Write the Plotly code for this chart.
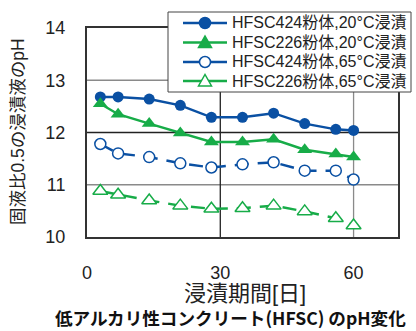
import plotly.graph_objects as go

# Immersion period [days]
days = [3, 7, 14, 21, 28, 35, 42, 49, 56, 60]

# pH of the leachate (solid/liquid ratio 0.5)
ph_424_20 = [12.68, 12.68, 12.64, 12.52, 12.29, 12.29, 12.37, 12.17, 12.06, 12.04]
ph_226_20 = [12.55, 12.35, 12.17, 11.99, 11.82, 11.82, 11.87, 11.67, 11.59, 11.53]
ph_424_65 = [11.78, 11.60, 11.53, 11.41, 11.33, 11.39, 11.43, 11.27, 11.27, 11.10]
ph_226_65 = [10.88, 10.81, 10.70, 10.60, 10.54, 10.55, 10.60, 10.49, 10.36, 10.22]

names = ["HFSC424粉体,20°C浸漬", "HFSC226粉体,20°C浸漬",
         "HFSC424粉体,65°C浸漬", "HFSC226粉体,65°C浸漬"]

BLUE = "#0a50a3"
GREEN = "#17ac48"
FONT = "Liberation Sans, Arial, Noto Sans CJK JP"

W, H = 416, 331
ML, MR, MT, MB = 87, 18, 28, 94
PW, PH = W - ML - MR, H - MT - MB


def px(xp):
    """Pixel x -> paper x."""
    return (xp - ML) / PW


def py(yp):
    """Pixel y (from top) -> paper y."""
    return (H - MB - yp) / PH


series = [
    (ph_424_20, BLUE, "circle", True, None),
    (ph_226_20, GREEN, "triangle-up", True, None),
    (ph_424_65, BLUE, "circle", False, "14px,9px"),
    (ph_226_65, GREEN, "triangle-up", False, "14px,9px"),
]

fig = go.Figure()
for (vals, col, sym, filled, dash), name in zip(series, names):
    size = 11 if sym == "circle" else 13
    fig.add_trace(go.Scatter(
        x=days, y=vals, name=name, mode="lines+markers", showlegend=False,
        line=dict(color=col, width=2.5, dash=dash),
        marker=dict(symbol=sym, size=size,
                    color=col if filled else "white",
                    line=dict(color=col, width=0 if filled else 1.5))))

# Grid lines: light ones plus darker mid lines
shapes = []
for yv, col in [(11, "#8a8a8a"), (13, "#8a8a8a"), (12, "#222222")]:
    shapes.append(dict(type="line", xref="paper", yref="y", x0=0, x1=1,
                       y0=yv, y1=yv, line=dict(color=col, width=1.3), layer="below"))
for xv, col in [(30, "#222222"), (60, "#8a8a8a")]:
    shapes.append(dict(type="line", xref="x", yref="paper", x0=xv, x1=xv,
                       y0=0, y1=1, line=dict(color=col, width=1.3), layer="below"))

annotations = []

# Legend box with line/marker keys
shapes.append(dict(type="rect", xref="paper", yref="paper",
                   x0=px(168), x1=px(411), y0=py(92), y1=py(12),
                   fillcolor="white", line=dict(color="#444444", width=1),
                   layer="above"))
row_y = [23, 42.5, 62, 81]
for (vals, col, sym, filled, dash), name, ry in zip(series, names, row_y):
    shapes.append(dict(type="line", xref="paper", yref="paper",
                       x0=px(183), x1=px(227), y0=py(ry), y1=py(ry),
                       line=dict(color=col, width=2.5), layer="above"))
    fill = col if filled else "white"
    if sym == "circle":
        shapes.append(dict(type="circle", xref="paper", yref="paper",
                           xsizemode="pixel", ysizemode="pixel",
                           xanchor=px(205), yanchor=py(ry),
                           x0=-5.5, x1=5.5, y0=-5.5, y1=5.5,
                           fillcolor=fill, line=dict(color=col, width=1.5),
                           layer="above"))
    else:
        shapes.append(dict(type="path", xref="paper", yref="paper",
                           xsizemode="pixel", ysizemode="pixel",
                           xanchor=px(205), yanchor=py(ry),
                           path="M -6.5 -5 L 6.5 -5 L 0 6.5 Z",
                           fillcolor=fill, line=dict(color=col, width=1.5),
                           layer="above"))
    annotations.append(dict(text=name, xref="paper", yref="paper",
                            x=px(230), y=py(ry), xanchor="left", yanchor="middle",
                            showarrow=False,
                            font=dict(size=16, family=FONT, color="#222222")))

annotations += [
    dict(text="浸漬期間[日]", xref="paper", yref="paper",
         x=px(245), y=py(293), xanchor="center", yanchor="middle",
         showarrow=False, font=dict(size=22, family=FONT)),
    dict(text="固液比0.5の浸漬液のpH", xref="paper", yref="paper",
         x=px(18), y=py(132), xanchor="center", yanchor="middle",
         textangle=-90, showarrow=False, font=dict(size=17.5, family=FONT)),
    dict(text="<b>低アルカリ性コンクリート(HFSC) のpH変化</b>",
         xref="paper", yref="paper", x=px(230), y=py(317),
         xanchor="center", yanchor="middle", showarrow=False, borderpad=0,
         font=dict(size=17.6, family="Noto Sans CJK JP", color="#111111")),
]

fig.update_layout(
    width=W, height=H,
    margin=dict(l=ML, r=MR, t=MT, b=MB),
    paper_bgcolor="white", plot_bgcolor="white",
    font=dict(family=FONT, color="#222222"),
    shapes=shapes,
    annotations=annotations,
    showlegend=False,
    xaxis=dict(
        range=[0, 70], tickvals=[0, 30, 60], showgrid=False, zeroline=False,
        showline=True, mirror=True, linecolor="#333333", linewidth=2,
        tickfont=dict(size=18), ticklabelstandoff=18, fixedrange=True,
    ),
    yaxis=dict(
        range=[10, 14], tickvals=[10, 11, 12, 13, 14], showgrid=False,
        zeroline=False, showline=True, mirror=True, linecolor="#333333",
        linewidth=2, tickfont=dict(size=18), ticklabelstandoff=16,
        fixedrange=True,
    ),
)

fig.write_html("out.html")
